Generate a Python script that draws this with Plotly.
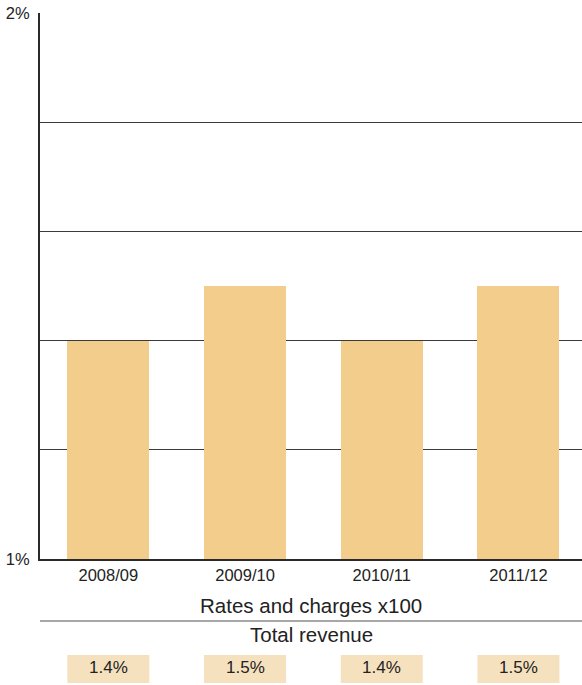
import plotly.graph_objects as go

# Ratio of rates and charges (x100) to total revenue, by financial year
years = ["2008/09", "2009/10", "2010/11", "2011/12"]
ratio = [1.4, 1.5, 1.4, 1.5]
ratio_labels = ["1.4%", "1.5%", "1.4%", "1.5%"]
y_ticks = [1.0, 1.2, 1.4, 1.6, 1.8, 2.0]
y_tick_text = ["1%", "", "", "", "", "2%"]

BAR = "#f2cd8b"
BOX = "#f6e1bf"
INK = "#222222"
FONT = "Liberation Sans, Arial, sans-serif"

W, H = 582, 685
M_L, M_R, M_T, M_B = 40, 0, 13, 126
plot_h = H - M_T - M_B
bar_w = 0.6


def py(px_below_axis):
    """Paper y coordinate for a pixel offset below the x axis."""
    return -px_below_axis / plot_h


fig = go.Figure()
fig.add_trace(go.Bar(x=years, y=ratio, base=0, marker=dict(color=BAR, line_width=0),
                     width=bar_w, hoverinfo="skip"))

# fraction line and its captions
fig.add_shape(type="line", xref="paper", yref="paper", x0=0, x1=1,
              y0=py(62), y1=py(62), line=dict(color="#8a8a8a", width=1.5))
fig.add_annotation(xref="paper", yref="paper", x=0.5, y=py(46), yanchor="middle",
                   text="Rates and charges x100", showarrow=False,
                   font=dict(size=20.5, color=INK, family=FONT))
fig.add_annotation(xref="paper", yref="paper", x=0.5, y=py(75), yanchor="middle",
                   text="Total revenue", showarrow=False,
                   font=dict(size=20.5, color=INK, family=FONT))

# value boxes under each year
for i, lab in enumerate(ratio_labels):
    fig.add_shape(type="rect", xref="x", yref="paper", x0=i - bar_w / 2, x1=i + bar_w / 2,
                  y0=py(124), y1=py(96), fillcolor=BOX, line_width=0, layer="below")
    fig.add_annotation(xref="x", yref="paper", x=years[i], y=py(108), yanchor="middle",
                       text=lab, showarrow=False,
                       font=dict(size=17, color=INK, family=FONT))

fig.update_layout(
    width=W, height=H,
    margin=dict(l=M_L, r=M_R, t=M_T, b=M_B),
    paper_bgcolor="white", plot_bgcolor="white",
    showlegend=False,
    bargap=0,
    font=dict(family=FONT, color=INK),
)
fig.update_xaxes(
    type="category", range=[-0.5, 3.465],
    showline=True, linecolor="#2a2a2a", linewidth=2,
    showgrid=False, ticks="", tickfont=dict(size=16.5, color=INK),
)
fig.update_yaxes(
    range=[1, 2], tickvals=y_ticks, ticktext=y_tick_text,
    showline=True, linecolor="#2a2a2a", linewidth=2,
    showgrid=True, gridcolor="#3a3a3a", gridwidth=1,
    ticks="", tickfont=dict(size=16.5, color=INK), zeroline=False,
    ticklabelstandoff=5,
)

fig.write_html("out.html")
